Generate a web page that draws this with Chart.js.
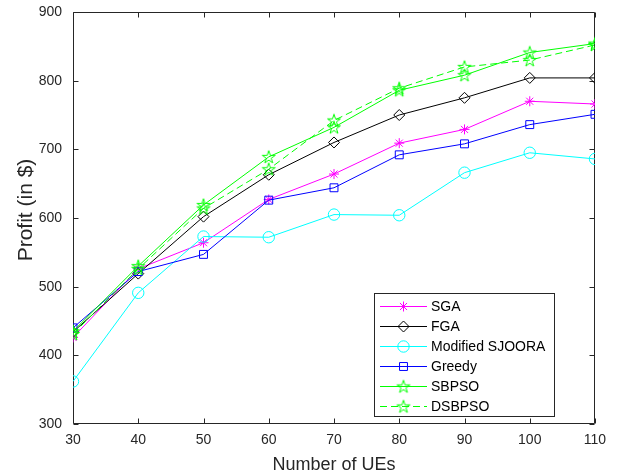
<!DOCTYPE html>
<html><head><meta charset="utf-8">
<script src="https://cdn.jsdelivr.net/npm/chart.js@4/dist/chart.umd.min.js"></script>
<style>html,body{margin:0;padding:0;background:#fff;}canvas{display:block}</style>
</head><body>
<canvas id="c" width="622" height="476"></canvas>
<script>
// ---- data ----
const ues = [30, 40, 50, 60, 70, 80, 90, 100, 110];
const sga = [426, 526, 564, 627, 664, 709, 729, 770, 766];
const fga = [434, 519, 602, 663, 710, 750, 775, 804, 804];
const modSjoora = [362, 491, 573, 572, 605, 604, 666, 695, 686];
const greedy = [440, 522, 547, 626, 644, 692, 708, 736, 751];
const sbpso = [435, 530, 619, 689, 732, 786, 808, 841, 854];
const dsbpso = [431, 526, 614, 671, 742, 789, 820, 830, 852];
const seriesNames = ['SGA', 'FGA', 'Modified SJOORA', 'Greedy', 'SBPSO', 'DSBPSO'];
const xTicks = [30, 40, 50, 60, 70, 80, 90, 100, 110];
const yTicks = [300, 400, 500, 600, 700, 800, 900];
const xTitle = 'Number of UEs';
const yTitle = 'Profit (in $)';

const FONT = '"Liberation Sans", Arial, Helvetica, sans-serif';
const AX = '#262626';

function pentagram(color) {
  const c = document.createElement('canvas');
  c.width = 16; c.height = 16;
  const g = c.getContext('2d');
  g.strokeStyle = color; g.lineWidth = 1;
  g.beginPath();
  const R = 6.8, r = R * 0.382;
  for (let i = 0; i < 10; i++) {
    const a = -Math.PI / 2 + i * Math.PI / 5;
    const rr = i % 2 ? r : R;
    const px = 8 + rr * Math.cos(a), py = 8.5 + rr * Math.sin(a);
    if (i) g.lineTo(px, py); else g.moveTo(px, py);
  }
  g.closePath(); g.stroke();
  return c;
}
const star = pentagram('#00ff00');

const styles = [
  {color: '#ff00ff', pointStyle: 'star', radius: 5},
  {color: '#000000', pointStyle: 'rectRot', radius: 5.5},
  {color: '#00ffff', pointStyle: 'circle', radius: 5.7},
  {color: '#0000ff', pointStyle: 'rect', radius: 5.6},
  {color: '#00ff00', pointStyle: star, radius: 6},
  {color: '#00ff00', pointStyle: star, radius: 6, dash: [7, 4]}
];
const values = [sga, fga, modSjoora, greedy, sbpso, dsbpso];

const datasets = values.map((arr, k) => ({
  label: seriesNames[k],
  data: ues.map((x, i) => ({x: x, y: arr[i]})),
  borderColor: styles[k].color,
  backgroundColor: 'rgba(0,0,0,0)',
  borderWidth: 1,
  borderDash: styles[k].dash || [],
  pointStyle: styles[k].pointStyle,
  pointRadius: styles[k].radius,
  pointHoverRadius: styles[k].radius,
  pointBorderColor: styles[k].color,
  pointBackgroundColor: 'rgba(0,0,0,0)',
  pointBorderWidth: 1,
  tension: 0,
  fill: false,
  order: values.length - k
}));

const framePlugin = {
  id: 'frame',
  beforeDatasetsDraw(chart) {
    const ctx = chart.ctx, a = chart.chartArea;
    const xs = chart.scales.x, ys = chart.scales.y;
    const L = Math.round(a.left) + 0.5, R = Math.round(a.right) - 0.5;
    const T = Math.round(a.top) + 0.5, B = Math.round(a.bottom) - 0.5;
    ctx.save();
    ctx.strokeStyle = AX; ctx.lineWidth = 1;
    ctx.beginPath();
    ctx.rect(L, T, R - L, B - T);
    const tl = 5;
    xTicks.forEach(v => {
      const px = Math.round(xs.getPixelForValue(v)) + 0.5;
      ctx.moveTo(px, B); ctx.lineTo(px, B - tl);
      ctx.moveTo(px, T); ctx.lineTo(px, T + tl);
    });
    yTicks.forEach(v => {
      const py = Math.round(ys.getPixelForValue(v)) + 0.5;
      ctx.moveTo(L, py); ctx.lineTo(L + tl, py);
      ctx.moveTo(R, py); ctx.lineTo(R - tl, py);
    });
    ctx.stroke();
    // y axis title
    ctx.translate(26, 210);
    ctx.rotate(-Math.PI / 2);
    ctx.font = '21px ' + FONT;
    ctx.fillStyle = AX;
    ctx.textAlign = 'center';
    ctx.textBaseline = 'middle';
    ctx.fillText(yTitle, 0, 0);
    ctx.restore();
  },
  afterDraw(chart) {
    const ctx = chart.ctx;
    const bx = 374.5, by = 293.5, bw = 180, bh = 123;
    ctx.save();
    ctx.fillStyle = '#ffffff';
    ctx.fillRect(bx, by, bw, bh);
    ctx.strokeStyle = AX; ctx.lineWidth = 1;
    ctx.strokeRect(bx, by, bw, bh);
    ctx.font = '14px ' + FONT;
    ctx.textBaseline = 'middle';
    ctx.textAlign = 'left';
    datasets.forEach((ds, i) => {
      const y = 306 + i * 20 + 0.5;
      ctx.strokeStyle = ds.borderColor;
      ctx.lineWidth = 1;
      ctx.setLineDash(ds.borderDash);
      ctx.beginPath(); ctx.moveTo(380, y); ctx.lineTo(427, y); ctx.stroke();
      ctx.setLineDash([]);
      ctx.fillStyle = 'rgba(0,0,0,0)';
      Chart.helpers.drawPoint(ctx, {pointStyle: ds.pointStyle, radius: ds.pointRadius, rotation: 0, borderWidth: 1}, 403.5, y);
      ctx.fillStyle = '#000000';
      ctx.fillText(ds.label, 431, y + 0.5);
    });
    ctx.restore();
  }
};

new Chart(document.getElementById('c'), {
  type: 'line',
  data: {datasets: datasets},
  plugins: [framePlugin],
  options: {
    responsive: false,
    animation: false,
    events: [],
    layout: {padding: {top: 12, right: 27, bottom: 0, left: 0}},
    plugins: {legend: {display: false}, tooltip: {enabled: false}},
    scales: {
      x: {
        type: 'linear', min: 30, max: 110,
        afterBuildTicks: s => { s.ticks = xTicks.map(v => ({value: v})); },
        afterFit: s => { s.height = 52; s.paddingLeft = 0; s.paddingRight = 0; },
        grid: {display: false, drawTicks: false},
        border: {display: false},
        ticks: {color: AX, font: {family: FONT, size: 14}, padding: 8, maxRotation: 0, autoSkip: false},
        title: {display: true, text: xTitle, color: AX, font: {family: FONT, size: 18}, padding: 0}
      },
      y: {
        type: 'linear', min: 300, max: 900,
        afterBuildTicks: s => { s.ticks = yTicks.map(v => ({value: v})); },
        afterFit: s => { s.width = 73; s.paddingTop = 0; s.paddingBottom = 0; },
        grid: {display: false, drawTicks: false},
        border: {display: false},
        ticks: {color: AX, font: {family: FONT, size: 14}, padding: 11},
        title: {display: false}
      }
    }
  }
});
</script>
</body></html>
